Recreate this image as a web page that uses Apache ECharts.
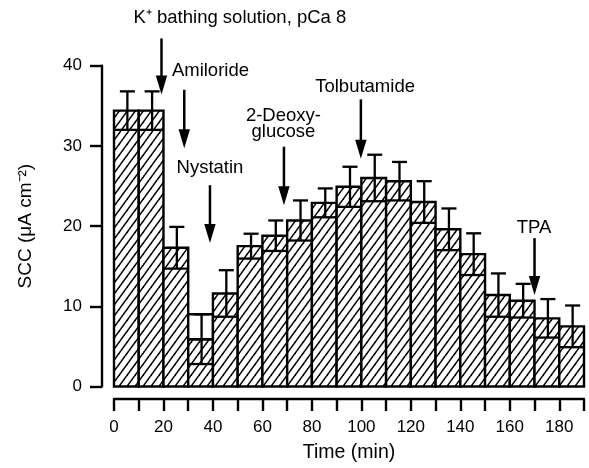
<!DOCTYPE html>
<html>
<head>
<meta charset="utf-8">
<script src="https://cdn.jsdelivr.net/npm/echarts@6/dist/echarts.min.js"></script>
<style>html,body{margin:0;padding:0;background:#fff;}#chart{width:589px;height:468px;}</style>
</head>
<body>
<div id="chart"></div>
<script>
// ---- data ----
const binStart = [0,10,20,30,40,50,60,70,80,90,100,110,120,130,140,150,160,170,180];
const binWidth = 10;
const meanSCC = [34.4,34.4,17.3,5.9,11.6,17.5,18.8,20.7,22.9,24.9,26.0,25.6,23.0,19.6,16.5,11.4,10.7,8.5,7.5];
const semSCC  = [2.4,2.4,2.6,3.1,2.9,1.55,1.9,2.5,1.8,2.5,2.9,2.4,2.6,2.6,2.6,2.7,2.1,2.4,2.6];
const openCapBins = [3]; // bin drawn with an open box above the mean
const xTicks = [0,20,40,60,80,100,120,140,160,180];
const yTicks = [0,10,20,30,40];
// annotations: label, arrow x (min), arrow start / tip (SCC units), text anchor (min, SCC), align
const annotLabels = ['K\u207A bathing solution, pCa 8','Amiloride','Nystatin','2-Deoxy-\nglucose','Tolbutamide','TPA'];
const annotArrowX = [19.2, 28.4, 38.8, 68.7, 99.8, 170];
const annotArrowFrom = [43.4, 37.0, 25.1, 29.9, 35.8, 18.5];
const annotArrowTo = [36.4, 29.7, 17.9, 22.6, 28.4, 11.4];
const annotTextX = [50.9, 23.4, 38.8, 68.5, 101.5, 169.8];
const annotTextY = [45.9, 39.3, 27.2, 32.8, 37.3, 19.8];
const annotAlign = ['center','left','center','center','center','center'];

// hatch pattern
const tile = document.createElement('canvas');
tile.width = 8; tile.height = 11;
const tc = tile.getContext('2d');
tc.fillStyle = '#fff'; tc.fillRect(0,0,8,11);
tc.strokeStyle = '#000'; tc.lineWidth = 1.5;
[-8,0,8].forEach(function(o){
  tc.beginPath(); tc.moveTo(o-1, 11 + 11/8); tc.lineTo(o+9, -11/8); tc.stroke();
});
const hatch = {image: tile, repeat: 'repeat'};

const barData = binStart.map(function(s,i){
  return [s, s + binWidth, meanSCC[i], semSCC[i], openCapBins.indexOf(i) >= 0 ? 1 : 0];
});
const annotData = annotLabels.map(function(l,i){
  return [annotArrowX[i], annotArrowFrom[i], annotArrowTo[i], annotTextX[i], annotTextY[i], i];
});

const FONT = 'Liberation Sans, Arial, Helvetica, sans-serif';

function renderBar(params, api){
  const s = api.value(0), e = api.value(1), m = api.value(2), se = api.value(3), open = api.value(4);
  const pb = api.coord([s, 0]);
  const pt = api.coord([e, m]);
  const pl = api.coord([s, m - se]);
  const pu = api.coord([s, m + se]);
  const xc = (pb[0] + pt[0]) / 2 + 1;
  const ls = {stroke:'#000', lineWidth:2.3};
  const ch = [];
  ch.push({type:'rect', shape:{x:pb[0], y:pt[1], width:pt[0]-pb[0], height:pb[1]-pt[1]}, style:{fill:hatch, stroke:'#000', lineWidth:2.4}});
  if (open) {
    ch.push({type:'rect', shape:{x:pb[0], y:pu[1], width:pt[0]-pb[0], height:pt[1]-pu[1]}, style:{fill:'#fff', stroke:'#000', lineWidth:2.4}});
  }
  ch.push({type:'line', shape:{x1:pb[0], y1:pl[1], x2:pt[0], y2:pl[1]}, style:ls});
  ch.push({type:'line', shape:{x1:xc, y1:pl[1], x2:xc, y2:pt[1]}, style:ls});
  ch.push({type:'line', shape:{x1:xc, y1:pt[1], x2:xc, y2:pu[1]}, style:ls});
  ch.push({type:'line', shape:{x1:xc-7.5, y1:pu[1], x2:xc+7.5, y2:pu[1]}, style:ls});
  return {type:'group', children:ch};
}

function renderAnnot(params, api){
  const ax = api.value(0), a0 = api.value(1), a1 = api.value(2), tx = api.value(3), ty = api.value(4), idx = api.value(5);
  const p0 = api.coord([ax, a0]);
  const p1 = api.coord([ax, a1]);
  const pt = api.coord([tx, ty]);
  const head = 19, hw = 5.7;
  return {type:'group', children:[
    {type:'line', shape:{x1:p0[0], y1:p0[1], x2:p1[0], y2:p1[1]-head+2}, style:{stroke:'#000', lineWidth:2.5}},
    {type:'polygon', shape:{points:[[p1[0]-hw, p1[1]-head],[p1[0]+hw, p1[1]-head],[p1[0], p1[1]]]}, style:{fill:'#000'}},
    {type:'text', x:pt[0], y:pt[1], style:{text:annotLabels[idx], fill:'#000', font:'18.5px ' + FONT, align:annotAlign[idx], verticalAlign:'middle', lineHeight:16}}
  ]};
}

const chart = echarts.init(document.getElementById('chart'));
chart.setOption({
  backgroundColor:'#fff',
  animation:false,
  grid:{left:114, right:5, top:65.7, bottom:77.5, containLabel:false},
  xAxis:{
    type:'value', min:0, max:190, interval:10, offset:12.5,
    name:'Time (min)', nameLocation:'middle', nameGap:44,
    nameTextStyle:{color:'#000', fontSize:19.5, fontFamily:FONT},
    axisLine:{show:true, onZero:false, lineStyle:{color:'#000', width:2.4}},
    axisTick:{show:true, length:12, lineStyle:{color:'#000', width:2.4}},
    axisLabel:{color:'#000', fontSize:17, fontFamily:FONT, margin:20,
      formatter:function(v){ return xTicks.indexOf(v) >= 0 ? String(v) : ''; }},
    splitLine:{show:false}
  },
  yAxis:{
    type:'value', min:0, max:40, interval:10, offset:12,
    name:'SCC (\u03BCA cm\u207B\u00B2)', nameLocation:'middle', nameGap:67, nameRotate:90,
    nameTextStyle:{color:'#000', fontSize:19, fontFamily:FONT},
    axisLine:{show:true, onZero:false, lineStyle:{color:'#000', width:2.4}},
    axisTick:{show:true, length:12, lineStyle:{color:'#000', width:2.4}},
    axisLabel:{color:'#000', fontSize:17, fontFamily:FONT, margin:20,
      formatter:function(v){ return yTicks.indexOf(v) >= 0 ? String(v) : ''; }},
    splitLine:{show:false}
  },
  series:[
    {type:'custom', renderItem:renderBar, data:barData, clip:false, encode:{x:[0,1], y:[2]}},
    {type:'custom', renderItem:renderAnnot, data:annotData, clip:false, encode:{x:[0,3], y:[1,2]}, silent:true}
  ]
});
</script>
</body>
</html>
